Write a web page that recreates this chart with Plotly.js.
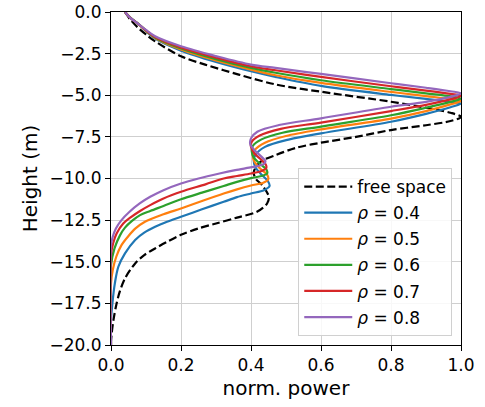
<!DOCTYPE html>
<html>
<head>
<meta charset="utf-8">
<script src="https://cdn.plot.ly/plotly-3.0.1.min.js"></script>
<style>html,body{margin:0;padding:0;background:#fff;}#chart{width:485px;height:407px;}</style>
</head>
<body>
<div id="chart"></div>
<script>
// Free space (dashed black)
const fsPower  = [0.04, 0.055, 0.078, 0.1, 0.126, 0.2, 0.269, 0.365, 0.47, 0.6, 0.8, 0.9, 0.97, 1.0, 0.97, 0.9, 0.8, 0.7, 0.6, 0.53, 0.47, 0.427, 0.408, 0.413, 0.432, 0.451, 0.446, 0.417, 0.36, 0.3, 0.25, 0.2, 0.16, 0.126, 0.095, 0.069, 0.04, 0.025, 0.016, 0.007, 0.002, 0.0, 0.0];
const fsHeight = [0, -0.45, -0.96, -1.35, -1.76, -2.66, -3.16, -3.76, -4.35, -4.79, -5.39, -5.75, -6.05, -6.3, -6.55, -6.8, -7.09, -7.5, -7.85, -8.15, -8.6, -9.0, -9.6, -10.0, -10.4, -11.1, -11.5, -12.0, -12.35, -12.7, -13.0, -13.38, -13.8, -14.2, -14.6, -15.1, -16.0, -16.8, -17.5, -18.5, -19.3, -19.8, -20];

// rho = 0.4
const r04Power  = [0.04, 0.056, 0.08, 0.1, 0.126, 0.2, 0.3, 0.4, 0.47, 0.6, 0.8, 0.9, 0.97, 1.0, 0.97, 0.9, 0.8, 0.6, 0.51, 0.44, 0.412, 0.408, 0.412, 0.427, 0.448, 0.453, 0.437, 0.4, 0.36, 0.322, 0.26, 0.2, 0.16, 0.126, 0.095, 0.069, 0.04, 0.021, 0.011, 0.004, 0.0, 0.0];
const r04Height = [0, -0.36, -0.75, -1.15, -1.6, -2.32, -3.0, -3.56, -3.9, -4.44, -4.98, -5.22, -5.4, -5.5, -5.72, -6.12, -6.59, -7.29, -7.65, -8.1, -8.6, -8.9, -9.3, -9.7, -10.15, -10.45, -10.7, -10.9, -11.12, -11.4, -11.85, -12.3, -12.6, -12.9, -13.25, -13.69, -14.5, -15.3, -16.3, -17.5, -18.5, -20];

// rho = 0.5
const r05Power  = [0.04, 0.056, 0.079, 0.1, 0.126, 0.2, 0.3, 0.4, 0.47, 0.6, 0.8, 0.9, 0.97, 1.0, 0.97, 0.9, 0.8, 0.6, 0.5, 0.44, 0.41, 0.405, 0.41, 0.426, 0.447, 0.449, 0.435, 0.4, 0.36, 0.322, 0.26, 0.2, 0.15, 0.097, 0.07, 0.05, 0.03, 0.015, 0.005, 0.0, 0.0];
const r05Height = [0, -0.36, -0.74, -1.13, -1.56, -2.25, -2.91, -3.46, -3.8, -4.26, -4.8, -5.05, -5.23, -5.35, -5.55, -5.95, -6.4, -7.05, -7.45, -7.85, -8.3, -8.6, -9.0, -9.4, -9.8, -10.05, -10.25, -10.42, -10.65, -10.9, -11.35, -11.8, -12.15, -12.6, -13.0, -13.45, -14.0, -14.7, -15.5, -16.3, -20];

// rho = 0.6
const r06Power  = [0.04, 0.056, 0.079, 0.1, 0.126, 0.2, 0.3, 0.4, 0.47, 0.6, 0.8, 0.9, 0.97, 1.0, 0.97, 0.9, 0.8, 0.6, 0.49, 0.43, 0.405, 0.402, 0.408, 0.425, 0.445, 0.446, 0.43, 0.4, 0.36, 0.322, 0.26, 0.2, 0.15, 0.112, 0.083, 0.06, 0.04, 0.026, 0.01, 0.0, 0.0];
const r06Height = [0, -0.35, -0.73, -1.11, -1.53, -2.19, -2.83, -3.36, -3.65, -4.1, -4.63, -4.89, -5.07, -5.2, -5.4, -5.75, -6.2, -6.88, -7.25, -7.65, -8.05, -8.35, -8.75, -9.1, -9.5, -9.7, -9.85, -9.98, -10.2, -10.45, -10.85, -11.25, -11.65, -11.95, -12.2, -12.55, -12.95, -13.4, -14.2, -15.2, -20];

// rho = 0.7
const r07Power  = [0.04, 0.055, 0.078, 0.1, 0.126, 0.2, 0.3, 0.4, 0.47, 0.6, 0.8, 0.9, 0.97, 1.0, 0.97, 0.9, 0.8, 0.6, 0.485, 0.425, 0.402, 0.4, 0.41, 0.428, 0.443, 0.443, 0.43, 0.4, 0.36, 0.322, 0.27, 0.2, 0.15, 0.112, 0.083, 0.055, 0.035, 0.016, 0.006, 0.0, 0.0];
const r07Height = [0, -0.35, -0.72, -1.1, -1.5, -2.13, -2.74, -3.26, -3.5, -3.9, -4.46, -4.72, -4.92, -5.03, -5.25, -5.58, -5.95, -6.64, -7.02, -7.42, -7.8, -8.1, -8.5, -8.85, -9.2, -9.4, -9.55, -9.7, -9.85, -10.0, -10.35, -10.8, -11.2, -11.6, -11.95, -12.35, -12.7, -13.3, -13.9, -14.6, -20];

// rho = 0.8
const r08Power  = [0.04, 0.055, 0.078, 0.1, 0.126, 0.2, 0.3, 0.4, 0.47, 0.6, 0.8, 0.9, 0.97, 1.0, 0.97, 0.9, 0.8, 0.6, 0.48, 0.418, 0.4, 0.398, 0.41, 0.428, 0.441, 0.438, 0.42, 0.395, 0.355, 0.31, 0.25, 0.2, 0.15, 0.112, 0.082, 0.053, 0.03, 0.014, 0.005, 0.0, 0.0];
const r08Height = [0, -0.35, -0.72, -1.08, -1.46, -2.06, -2.65, -3.16, -3.36, -3.72, -4.28, -4.55, -4.76, -4.88, -5.1, -5.4, -5.69, -6.39, -6.79, -7.19, -7.59, -7.95, -8.3, -8.65, -8.95, -9.1, -9.25, -9.35, -9.5, -9.7, -10.0, -10.3, -10.7, -11.1, -11.5, -12.0, -12.5, -13.0, -13.5, -14.0, -20];

const seriesNames = ['free space', '<i>ρ</i> = 0.4', '<i>ρ</i> = 0.5', '<i>ρ</i> = 0.6', '<i>ρ</i> = 0.7', '<i>ρ</i> = 0.8'];
const seriesColors = ['#000000', '#1f77b4', '#ff7f0e', '#2ca02c', '#d62728', '#9467bd'];
const xTicks = [0, 0.2, 0.4, 0.6, 0.8, 1.0];
const yTicks = [0, -2.5, -5, -7.5, -10, -12.5, -15, -17.5, -20];

const powers = [fsPower, r04Power, r05Power, r06Power, r07Power, r08Power];
const heights = [fsHeight, r04Height, r05Height, r06Height, r07Height, r08Height];

const traces = powers.map((p, i) => ({
  x: p, y: heights[i], type: 'scatter', mode: 'lines',
  name: seriesNames[i], legendgroup: 'g' + i,
  line: {color: seriesColors[i], width: 2.2, dash: i === 0 ? '8px,3.5px' : 'solid', shape: 'spline', smoothing: 0.9}
}));

const font = {family: 'DejaVu Sans', size: 17, color: '#000'};
const layout = {
  width: 485, height: 407,
  margin: {l: 111, r: 24, t: 12, b: 62},
  paper_bgcolor: '#fff', plot_bgcolor: '#fff',
  font: font,
  showlegend: true,
  legend: {x: 0.975, y: 0.027, xanchor: 'right', yanchor: 'bottom',
    bgcolor: 'rgba(255,255,255,0.85)', bordercolor: '#d0d0d0', borderwidth: 1,
    font: {family: 'DejaVu Sans', size: 17, color: '#000'}, tracegroupgap: 1, traceorder: 'grouped',
    itemwidth: 48},
  xaxis: {range: [0, 1], tickvals: xTicks, tickformat: '.1f', showgrid: true, gridcolor: '#cfcfcf',
    zeroline: false, showline: true, mirror: true, linecolor: '#000', linewidth: 1,
    ticks: 'outside', ticklen: 5, tickcolor: '#000', title: {text: 'norm. power', standoff: 6}},
  yaxis: {range: [-20, 0], tickvals: yTicks, tickformat: '.1f', showgrid: true, gridcolor: '#cfcfcf',
    zeroline: false, showline: true, mirror: true, linecolor: '#000', linewidth: 1,
    ticks: 'outside', ticklen: 5, tickcolor: '#000', title: {text: 'Height (m)', standoff: 6}}
};
Plotly.newPlot('chart', traces, layout, {displayModeBar: false, staticPlot: true});
</script>
</body>
</html>
